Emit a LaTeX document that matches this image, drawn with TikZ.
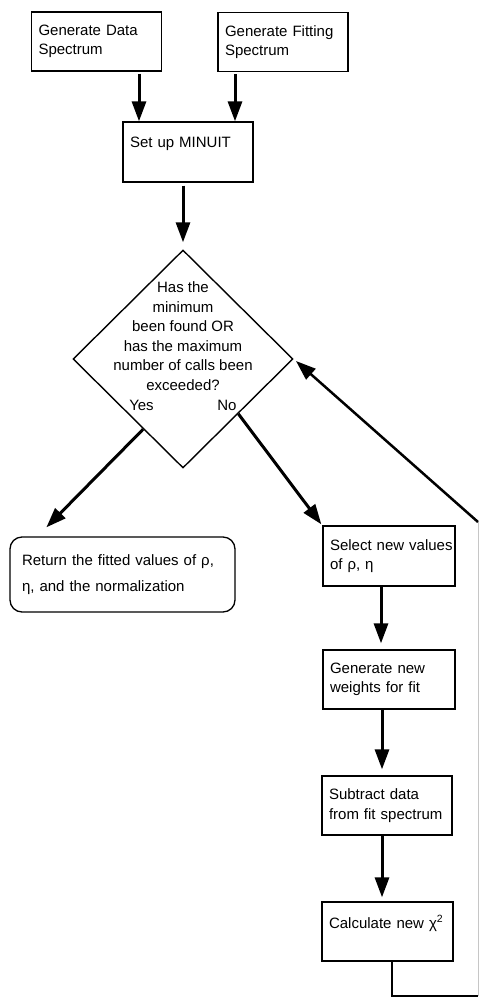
\documentclass[tikz,border=0pt]{standalone}
\usepackage{fontspec}
\setmainfont{Liberation Sans}
\usetikzlibrary{shapes.geometric,arrows.meta,calc}
\begin{document}
\begin{tikzpicture}[x=1pt,y=1pt,
  font=\fontsize{15}{19.5}\selectfont,
  box/.style={draw,line width=1.3pt,rectangle,inner xsep=7pt,inner ysep=0pt,
    text width=116pt,minimum height=59pt,align=left},
  arr/.style={line width=3pt,-{Triangle[length=20pt,width=14pt]}},
  thinarr/.style={line width=2.5pt,-{Triangle[length=20pt,width=14pt]}}]
\useasboundingbox (0,0) rectangle (479,-1006);

\node[box] (gds) at (96.5,-41.5) {\mbox{Generate Data}\\\mbox{Spectrum}};
\node[box] (gfs) at (283,-42) {\mbox{Generate Fitting}\\\mbox{Spectrum}};
\node[box,minimum height=60pt] (minuit) at (188,-152) {\mbox{Set up MINUIT}\\\mbox{}};

\node[draw,diamond,line width=1.4pt,inner sep=0pt,minimum width=220pt,minimum height=218pt] (dia) at (183,-359) {};
\node[align=center,inner sep=0pt] (diatext) at (183,-336)
  {Has the\\minimum\\been found OR\\has the maximum\\number of calls been\\exceeded?};
\node[inner sep=0pt] (yes) at (141.5,-405) {Yes};
\node[inner sep=0pt] (no) at (227,-405) {No};

\node[draw,rectangle,rounded corners=12pt,line width=1.3pt,inner xsep=12pt,inner ysep=0pt,
  text width=201pt,minimum height=75pt,align=left] (ret) at (122.5,-574.5)
  {\mbox{Return the fitted values of ρ,}\\[7pt]\mbox{η, and the normalization}};

\node[box,text width=118pt,minimum height=60pt] (sel) at (389,-556) {\mbox{Select new values}\\\mbox{of ρ, η}};
\node[box,text width=118pt] (gen) at (389,-679.5) {\mbox{Generate new}\\\mbox{weights for fit}};
\node[box] (sub) at (387,-805.5) {\mbox{Subtract data}\\\mbox{from fit spectrum}};
\node[box,text width=117pt] (calc) at (387.5,-931.5) {\mbox{Calculate new χ\textsuperscript{2}}\\\mbox{}};

\coordinate (lr) at (478,-996);
\coordinate (lt) at (478,-522);

\draw[arr,shorten <=2pt] ([xshift=42.5pt]gds.south) -- ([xshift=-49pt]minuit.north);
\draw[arr,shorten <=2pt] ([xshift=-48pt]gfs.south) -- ([xshift=47pt]minuit.north);
\draw[arr,shorten <=3pt,shorten >=7pt] ([xshift=-5pt]minuit.south) -- (dia.north);
\draw[arr] ($(dia.west)!0.64!(dia.south)$) -- ([shift={(37pt,9pt)}]ret.north west);
\draw[arr] ($(dia.east)!0.5!(dia.south)$) -- ([shift={(-1pt,1pt)}]sel.north west);
\draw[arr,shorten >=6pt] ([xshift=-8pt]sel.south) -- ([xshift=-8pt]gen.north);
\draw[arr,shorten >=6pt] ([xshift=-7pt]gen.south) -- ([xshift=-5pt]sub.north);
\draw[arr,shorten >=4pt] ([xshift=-5pt]sub.south) -- ([xshift=-5.5pt]calc.north);

\draw[line width=2.5pt] ([xshift=4.5pt]calc.south) |- (lr);
\draw[gray!45,line width=1pt] (lr) -- (lt);
\draw[thinarr,shorten >=3pt] (lt) -- (dia.east);
\end{tikzpicture}
\end{document}
